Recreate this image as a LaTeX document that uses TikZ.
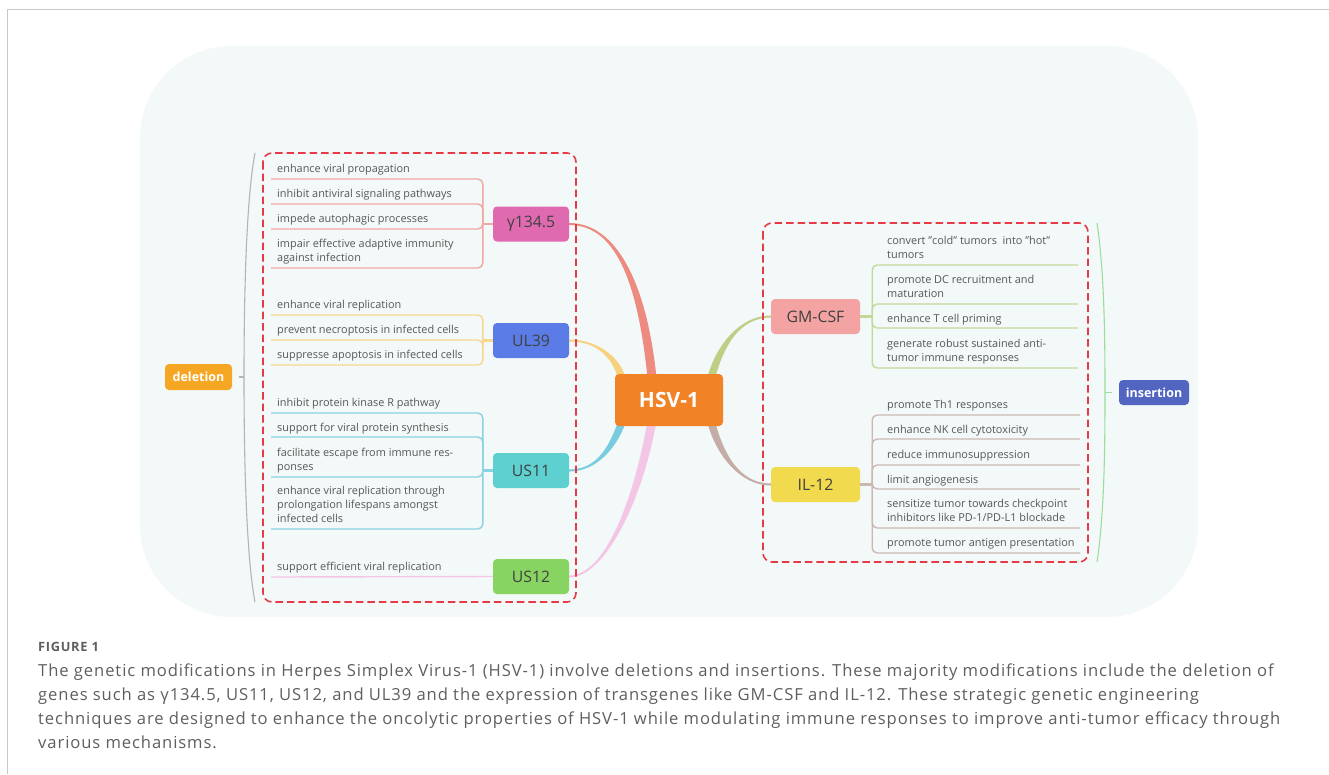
\documentclass[tikz,border=0pt]{standalone}
\usepackage{fontspec}
\setmainfont{Open Sans}
\newfontfamily\capfam[LetterSpace=5.5]{Open Sans}
\usetikzlibrary{calc}
\pgfdeclarelayer{back}
\pgfsetlayers{back,main}
\definecolor{txt}{HTML}{585858}
\definecolor{genetxt}{HTML}{404040}
\definecolor{bgpanel}{HTML}{F3F8F8}
\definecolor{framegray}{HTML}{C8C8C8}
\definecolor{dashred}{HTML}{E63A46}
\definecolor{cHSV}{HTML}{F28226}
\definecolor{cGam}{HTML}{E06AB0}
\definecolor{cUL}{HTML}{5B7CE6}
\definecolor{cUSa}{HTML}{5FD0D0}
\definecolor{cUSb}{HTML}{88D462}
\definecolor{cGM}{HTML}{F4A3A3}
\definecolor{cIL}{HTML}{F2DA4E}
\definecolor{cDel}{HTML}{F5A623}
\definecolor{cIns}{HTML}{5165C1}
\definecolor{kGam}{HTML}{EE8B80}
\definecolor{lGam}{HTML}{F2A8A2}
\definecolor{kUL}{HTML}{F6D27E}
\definecolor{lUL}{HTML}{F8D88E}
\definecolor{kUSa}{HTML}{78CCE0}
\definecolor{lUSa}{HTML}{8AD3E3}
\definecolor{kUSb}{HTML}{F3C6E6}
\definecolor{kGM}{HTML}{BFCE84}
\definecolor{lGM}{HTML}{C5D89A}
\definecolor{kIL}{HTML}{C4ADA6}
\definecolor{lIL}{HTML}{CCB8B1}
\definecolor{brGray}{HTML}{B4B4B4}
\definecolor{brGreen}{HTML}{9EDC9E}
\definecolor{capgray}{HTML}{5F5F5F}
\newcommand\itemfont{\fontsize{10.9}{14}\selectfont}
\newcommand\genefont{\fontsize{15.8}{16}\selectfont}
\newcommand\tagfont{\fontsize{12.5}{14}\selectfont\bfseries}
\newcommand\hsvfont{\fontsize{21}{22}\selectfont\bfseries}
\newcommand\capheadfont{\capfam\fontsize{12.8}{14}\selectfont\bfseries}
\newcommand\capfont{\capfam\fontsize{16.6}{24}\selectfont}
\newcommand\taper[7]{%
  \fill[#1] ($#2+(#6,0)$) .. controls ($#3+(#6,0)$) and ($#4+(0,#7)$) .. ($#5+(0,#7)$)
    -- ($#5-(0,#7)$) .. controls ($#4-(0,#7)$) and ($#3-(#6,0)$) .. ($#2-(#6,0)$) -- cycle;}
\begin{document}
\begin{tikzpicture}[x=1pt,y=-1pt,
  item/.style={anchor=base west, inner sep=0pt, align=left, text=txt, font=\itemfont},
  gene/.style={rounded corners=4pt, minimum width=76pt, minimum height=35pt, inner sep=0pt, text=genetxt, font=\genefont},
  tag/.style={rounded corners=4pt, inner sep=0pt, text=white, font=\tagfont},
  bline/.style={line width=1.4pt, rounded corners=5pt},
  junc/.style={line width=2.4pt},
  dbox/.style={draw=dashred, line width=1.6pt, dash pattern=on 7.5pt off 4pt, rounded corners=9pt},
  brack/.style={line width=1.1pt}
]
\useasboundingbox (0,0) rectangle (1329,774);
\begin{pgfonlayer}{back}
\fill[white] (0,0) rectangle (1329,774);
\draw[framegray, line width=1pt] (7.5,774) -- (7.5,9.5) -- (1329,9.5);
\fill[bgpanel, rounded corners=92pt] (140,46) rectangle (1198,617);
\end{pgfonlayer}

% main nodes
\node[tag, fill=cHSV, minimum width=108pt, minimum height=52pt, font=\hsvfont] (hsv) at (669,400) {HSV-1};
\node[gene, fill=cGam] (gam) at (531,224) {γ134.5};
\node[gene, fill=cUL] (ul) at (531,340.5) {UL39};
\node[gene, fill=cUSa] (usa) at (531,470.5) {US11};
\node[gene, fill=cUSb] (usb) at (531,576.5) {US12};
\node[gene, fill=cGM, minimum width=89pt] (gm) at (815.5,316.5) {GM-CSF};
\node[gene, fill=cIL, minimum width=89pt] (il) at (815.5,484.5) {IL-12};
\node[tag, fill=cDel, minimum width=67pt, minimum height=26pt] (del) at (198.5,377) {deletion};
\node[tag, fill=cIns, minimum width=70pt, minimum height=25pt] (ins) at (1154,392.5) {insertion};

% dashed groups and brackets
\draw[dbox] (263,153) rectangle (576,602);
\draw[dbox] (763,223) rectangle (1088,562);
\coordinate (delb) at (244,377);
\coordinate (insb) at (1105,392.5);
\draw[brGray, brack] (255,153) .. controls (246,200) and (244,300) .. (delb) .. controls (244,454) and (246,555) .. (255,602);
\draw[brGray, brack] ([xshift=7pt]del.east) -- (delb);
\draw[brGreen, brack] (1097,223) .. controls (1104,270) and (1105,330) .. (insb) .. controls (1105,455) and (1104,515) .. (1097,562);
\draw[brGreen, brack] ([xshift=-7pt]ins.west) -- (insb);

% thick tapered connectors
\begin{pgfonlayer}{back}
\coordinate (Ag) at ([xshift=-17pt,yshift=-4pt]hsv.north);
\coordinate (Au) at ([xshift=7pt,yshift=-4pt]hsv.north west);
\coordinate (Aa) at ([xshift=7pt,yshift=4pt]hsv.south west);
\coordinate (Ab) at ([xshift=37pt,yshift=4pt]hsv.south west);
\coordinate (Am) at ([xshift=-12pt,yshift=-4pt]hsv.north east);
\coordinate (Al) at ([xshift=-12pt,yshift=4pt]hsv.south east);
\taper{kGam}{(Ag)}{(642,280)}{(615,224)}{(gam.east)}{-4.5}{1}
\taper{kUL}{(Au)}{(615,355)}{(595,340.5)}{(ul.east)}{-4}{1}
\taper{kUSa}{(Aa)}{(612,450)}{(595,470.5)}{(usa.east)}{-4}{-1}
\taper{kUSb}{(Ab)}{(638,500)}{(605,576.5)}{(usb.east)}{-4.5}{-1}
\taper{kGM}{(Am)}{(720,345)}{(740,316.5)}{(gm.west)}{4}{1}
\taper{kIL}{(Al)}{(720,455)}{(740,484.5)}{(il.west)}{4}{-1}
\end{pgfonlayer}

% gamma134.5 branch
\coordinate (gJ) at ([xshift=-10pt]gam.west);
\draw[junc, lGam] (gam.west) -- (gJ);
\coordinate (gu1) at (271,179);
\coordinate (gu2) at (271,204);
\coordinate (gu3) at (271,229);
\coordinate (gu4) at (271,268);
\foreach \c in {gu1,gu2,gu3,gu4} \draw[bline, lGam] (gJ) |- (\c);
\node[item] (gi1) at (277,172) {enhance viral propagation};
\node[item] (gi2) at (277,197) {inhibit antiviral signaling pathways};
\node[item] (gi3) at (277,222) {impede autophagic processes};
\node[item] (gi4) at (277,261) {impair effective adaptive immunity\\against infection};

% UL39 branch
\coordinate (uJ) at ([xshift=-10pt]ul.west);
\draw[junc, lUL] (ul.west) -- (uJ);
\coordinate (uu1) at (271,315);
\coordinate (uu2) at (271,340);
\coordinate (uu3) at (271,365);
\foreach \c in {uu1,uu2,uu3} \draw[bline, lUL] (uJ) |- (\c);
\node[item] (ui1) at (277,308) {enhance viral replication};
\node[item] (ui2) at (277,333) {prevent necroptosis in infected cells};
\node[item] (ui3) at (277,358) {suppresse apoptosis in infected cells};

% US11 branch
\coordinate (aJ) at ([xshift=-10pt]usa.west);
\draw[junc, lUSa] (usa.west) -- (aJ);
\coordinate (au1) at (271,413);
\coordinate (au2) at (271,437);
\coordinate (au3) at (271,477);
\coordinate (au4) at (271,529);
\foreach \c in {au1,au2,au3,au4} \draw[bline, lUSa] (aJ) |- (\c);
\node[item] (ai1) at (277,406) {inhibit protein kinase R pathway};
\node[item] (ai2) at (277,431) {support for viral protein synthesis};
\node[item] (ai3) at (277,470) {facilitate escape from immune res-\\ponses};
\node[item] (ai4) at (277,522) {enhance viral replication through\\prolongation lifespans amongst\\infected cells};

% US12 branch
\coordinate (bu1) at (271,577);
\draw[bline, kUSb] (usb.west) -- (bu1);
\node[item] (bi1) at (277,570) {support efficient viral replication};

% GM-CSF branch
\coordinate (mJ) at ([xshift=12pt]gm.east);
\draw[junc, lGM] (gm.east) -- (mJ);
\coordinate (mu1) at (1078,265);
\coordinate (mu2) at (1078,304);
\coordinate (mu3) at (1078,328);
\coordinate (mu4) at (1078,368);
\foreach \c in {mu1,mu2,mu3,mu4} \draw[bline, lGM] (mJ) |- (\c);
\node[item] (mi1) at (887,258) {convert "cold" tumors\ \ into "hot"\\tumors};
\node[item] (mi2) at (887,297) {promote DC recruitment and\\maturation};
\node[item] (mi3) at (887,322) {enhance T cell priming};
\node[item] (mi4) at (887,361) {generate robust sustained anti-\\tumor immune responses};

% IL-12 branch
\coordinate (lJ) at ([xshift=12pt]il.east);
\draw[junc, lIL] (il.east) -- (lJ);
\coordinate (lu1) at (1080,415);
\coordinate (lu2) at (1080,439);
\coordinate (lu3) at (1080,465);
\coordinate (lu4) at (1080,489);
\coordinate (lu5) at (1080,528);
\coordinate (lu6) at (1080,553);
\foreach \c in {lu1,lu2,lu3,lu4,lu5,lu6} \draw[bline, lIL] (lJ) |- (\c);
\node[item] (li1) at (887,408) {promote Th1 responses};
\node[item] (li2) at (887,433) {enhance NK cell cytotoxicity};
\node[item] (li3) at (887,458) {reduce immunosuppression};
\node[item] (li4) at (887,483) {limit angiogenesis};
\node[item] (li5) at (887,521) {sensitize tumor towards checkpoint\\inhibitors like PD-1/PD-L1 blockade};
\node[item] (li6) at (887,546) {promote tumor antigen presentation};

% caption
\node[anchor=base west, inner sep=0pt, text=capgray, font=\capheadfont] (fig) at (38,651) {FIGURE 1};
\node[anchor=base west, inner sep=0pt, text=capgray, font=\capfont, align=left] (cap) at (38,748)
 {The genetic modifications in Herpes Simplex Virus-1 (HSV-1) involve deletions and insertions. These majority modifications include the deletion of\\
  genes such as γ134.5, US11, US12, and UL39 and the expression of transgenes like GM-CSF and IL-12. These strategic genetic engineering\\
  techniques are designed to enhance the oncolytic properties of HSV-1 while modulating immune responses to improve anti-tumor efficacy through\\
  various mechanisms.};
\end{tikzpicture}
\end{document}
